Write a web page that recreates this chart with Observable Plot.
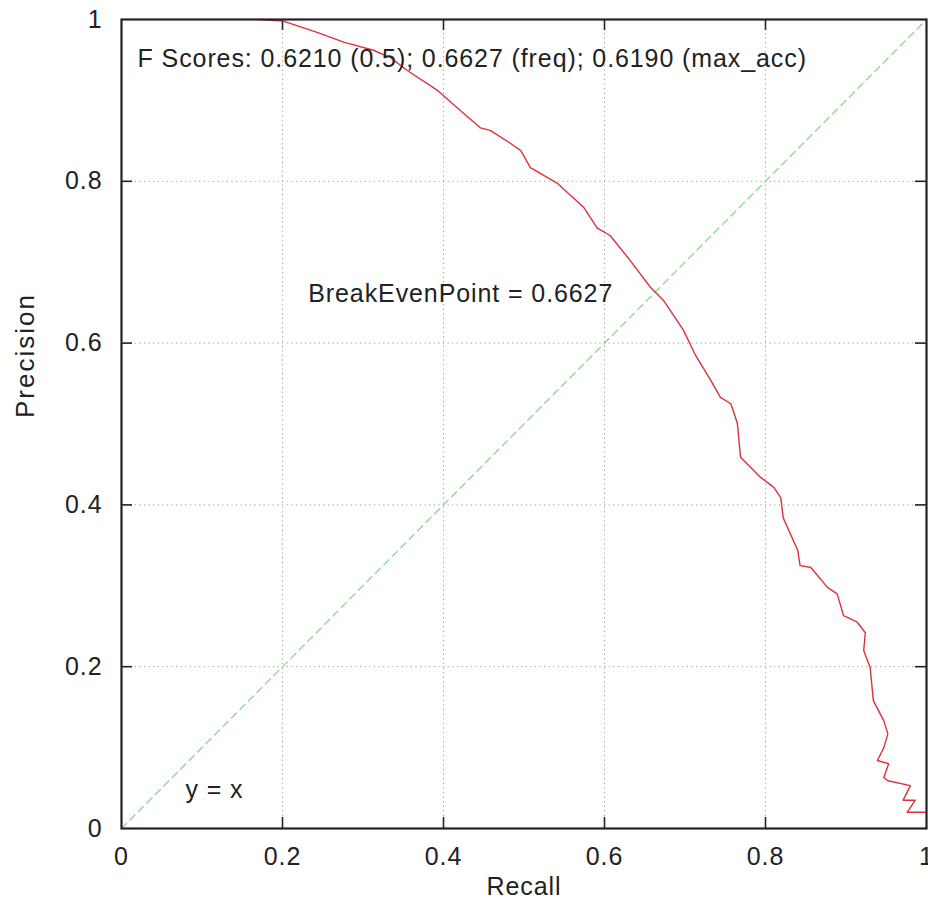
<!DOCTYPE html>
<html>
<head>
<meta charset="utf-8">
<script src="https://cdn.jsdelivr.net/npm/d3@7"></script>
<script src="https://cdn.jsdelivr.net/npm/@observablehq/plot@0.6"></script>
<style>
  html, body { margin: 0; padding: 0; background: #fff; }
  #chart { width: 928px; height: 908px; overflow: hidden; }
</style>
</head>
<body>
<div id="chart"></div>
<script>
// Precision-recall curve
const recall = [0.170, 0.201, 0.243, 0.276, 0.313, 0.334, 0.355, 0.393, 0.417, 0.446,
  0.458, 0.483, 0.496, 0.508, 0.542, 0.574, 0.591, 0.607, 0.632, 0.657,
  0.673, 0.698, 0.713, 0.732, 0.744, 0.757, 0.765, 0.769, 0.794, 0.810,
  0.819, 0.822, 0.840, 0.843, 0.856, 0.877, 0.889, 0.897, 0.914, 0.924,
  0.922, 0.930, 0.934, 0.947, 0.952, 0.947, 0.939, 0.953, 0.947, 0.952,
  0.980, 0.971, 0.986, 0.976, 0.999];
const precision = [1.000, 0.998, 0.984, 0.972, 0.962, 0.953, 0.937, 0.912, 0.891, 0.866,
  0.863, 0.847, 0.838, 0.817, 0.797, 0.768, 0.742, 0.733, 0.702, 0.669,
  0.653, 0.616, 0.585, 0.554, 0.533, 0.525, 0.501, 0.459, 0.434, 0.422,
  0.409, 0.384, 0.344, 0.325, 0.323, 0.298, 0.290, 0.263, 0.255, 0.242,
  0.220, 0.199, 0.158, 0.133, 0.117, 0.100, 0.084, 0.080, 0.063, 0.059,
  0.053, 0.035, 0.035, 0.020, 0.020];

// Reference line y = x
const diagX = [0, 1];
const diagY = [0, 1];

// Ticks and labels
const tickValues = [0, 0.2, 0.4, 0.6, 0.8, 1];
const tickLabels = ["0", "0.2", "0.4", "0.6", "0.8", "1"];
const gridValues = [0.2, 0.4, 0.6, 0.8];

// Annotations
const annTexts = ["F Scores: 0.6210 (0.5); 0.6627 (freq); 0.6190 (max_acc)", "BreakEvenPoint = 0.6627", "y = x"];
const annX = [0.020, 0.232, 0.0795];
const annY = [0.951, 0.661, 0.047];

const xLabel = "Recall";
const yLabel = "Precision";

const curve = recall.map((r, i) => ({r, p: precision[i]}));
const diag = diagX.map((x, i) => ({x, y: diagY[i]}));
const ann = annTexts.map((t, i) => ({t, x: annX[i], y: annY[i]}));

const W = 928, H = 908;
const mL = 121, mR = 2, mT = 19, mB = 80;
const innerW = W - mL - mR, innerH = H - mT - mB;
const tickLen = 11;
const fmt = d => tickLabels[tickValues.indexOf(d)];

const chart = Plot.plot({
  width: W,
  height: H,
  marginLeft: mL,
  marginRight: mR,
  marginTop: mT,
  marginBottom: mB,
  style: {fontFamily: "'Liberation Sans', Arial, sans-serif", fontSize: "25px", background: "#fff", color: "#222", letterSpacing: "0.9px"},
  x: {domain: [0, 1], ticks: tickValues, tickFormat: fmt, tickSize: 0, tickPadding: 19, label: null},
  y: {domain: [0, 1], ticks: tickValues, tickFormat: fmt, tickSize: 0, tickPadding: 19, label: null},
  marks: [
    // dotted grid
    Plot.ruleX(gridValues, {stroke: "#9a9a9a", strokeWidth: 1, strokeDasharray: "1.2,3.4"}),
    Plot.ruleY(gridValues, {stroke: "#9a9a9a", strokeWidth: 1, strokeDasharray: "1.2,3.4"}),
    // inward ticks on all four sides
    Plot.ruleX(gridValues, {stroke: "#222", strokeWidth: 1.6, insetTop: innerH - tickLen}),
    Plot.ruleX(gridValues, {stroke: "#222", strokeWidth: 1.6, insetBottom: innerH - tickLen}),
    Plot.ruleY(gridValues, {stroke: "#222", strokeWidth: 1.6, insetRight: innerW - tickLen}),
    Plot.ruleY(gridValues, {stroke: "#222", strokeWidth: 1.6, insetLeft: innerW - tickLen}),
    // y = x
    Plot.line(diag, {x: "x", y: "y", stroke: "#8edc8e", strokeWidth: 1.4, strokeDasharray: "7,5"}),
    // PR curve
    Plot.line(curve, {x: "r", y: "p", stroke: "#e0303c", strokeWidth: 1.4, curve: "linear"}),
    // annotations
    Plot.text(ann, {x: "x", y: "y", text: "t", textAnchor: "start", fill: "#222", fontSize: 25}),
    // axis titles
    Plot.text([xLabel], {frameAnchor: "bottom", dy: 66, fill: "#222", fontSize: 25}),
    Plot.text([yLabel], {frameAnchor: "left", dx: -96, dy: -6, rotate: -90, fill: "#222", fontSize: 26}),
    Plot.frame({stroke: "#222", strokeWidth: 2.2})
  ]
});
// the rotated y title is spaced a little wider in the reference
d3.select(chart).selectAll("text").filter(function () { return this.textContent === yLabel; })
  .attr("letter-spacing", "2px");
document.getElementById("chart").appendChild(chart);
</script>
</body>
</html>
